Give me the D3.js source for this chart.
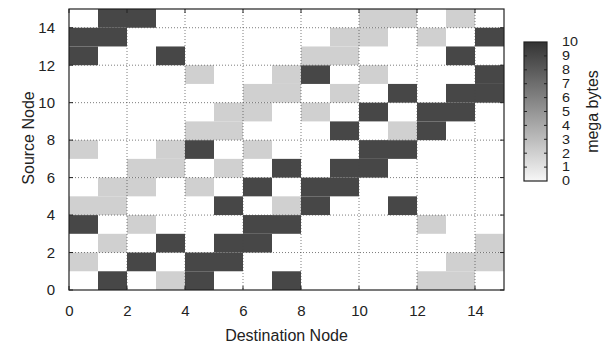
<!DOCTYPE html>
<html>
<head>
<meta charset="utf-8">
<script src="https://cdn.jsdelivr.net/npm/d3@7"></script>
<style>
  body { margin: 0; background: #fff; }
  text { font-family: "Liberation Sans", Arial, sans-serif; fill: #222; }
</style>
</head>
<body>
<svg id="chart"></svg>
<script>
// node ids on both axes
const nodes = d3.range(15);
const xTicks = [0, 2, 4, 6, 8, 10, 12, 14];
const yTicks = [0, 2, 4, 6, 8, 10, 12, 14];
const cbTicks = d3.range(11);

// traffic in mega bytes, one row per source node (row 0 = source 0), column = destination
const H = 9, L = 2;
const traffic = [
  [0, H, 0, L, H, 0, 0, H, 0, 0, 0, 0, L, L, 0],
  [L, 0, H, 0, H, H, 0, 0, 0, 0, 0, 0, 0, L, L],
  [0, L, 0, H, 0, H, H, 0, 0, 0, 0, 0, 0, 0, L],
  [H, 0, L, 0, 0, 0, H, H, 0, 0, 0, 0, L, 0, 0],
  [L, L, 0, 0, 0, H, 0, L, H, 0, 0, H, 0, 0, 0],
  [0, L, L, 0, L, 0, H, 0, H, H, 0, 0, 0, 0, 0],
  [0, 0, L, L, 0, L, 0, H, 0, H, H, 0, 0, 0, 0],
  [L, 0, 0, L, H, 0, L, 0, 0, 0, H, H, 0, 0, 0],
  [0, 0, 0, 0, L, L, 0, 0, 0, H, 0, L, H, 0, 0],
  [0, 0, 0, 0, 0, L, L, 0, L, 0, H, 0, H, H, 0],
  [0, 0, 0, 0, 0, 0, L, L, 0, L, 0, H, 0, H, H],
  [0, 0, 0, 0, L, 0, 0, L, H, 0, L, 0, 0, 0, H],
  [H, 0, 0, H, 0, 0, 0, 0, L, L, 0, 0, 0, H, 0],
  [H, H, 0, 0, 0, 0, 0, 0, 0, L, L, 0, L, 0, H],
  [0, H, H, 0, 0, 0, 0, 0, 0, 0, L, L, 0, L, 0]
];

const width = 607, height = 345;
const margin = { top: 9, left: 69, right: 103, bottom: 55 };
const innerW = width - margin.left - margin.right;
const innerH = height - margin.top - margin.bottom;

const svg = d3.select('#chart')
    .attr('width', width)
    .attr('height', height);

const chart = svg.append('g')
    .attr('transform', `translate(${margin.left},${margin.top})`);

const xScale = d3.scaleLinear().domain([0, 15]).range([0, innerW]);
const yScale = d3.scaleLinear().domain([0, 15]).range([innerH, 0]);
const color = d3.scaleLinear().domain([0, 10]).range(['#f7f7f7', '#333333']);

// flatten into cells, skip empty ones (drawn as white background)
const cells = [];
traffic.forEach((row, src) => row.forEach((v, dst) => {
  if (v > 0) cells.push({ src, dst, v });
}));

chart.selectAll('rect.cell')
  .data(cells)
  .join('rect')
    .attr('class', 'cell')
    .attr('x', d => xScale(d.dst))
    .attr('y', d => yScale(d.src + 1))
    .attr('width', xScale(1) - xScale(0))
    .attr('height', yScale(0) - yScale(1))
    .attr('fill', d => color(d.v));

// dotted grid on top
chart.selectAll('line.vgrid')
  .data(xTicks.filter(t => t > 0))
  .join('line')
    .attr('x1', d => xScale(d)).attr('x2', d => xScale(d))
    .attr('y1', 0).attr('y2', innerH)
    .attr('stroke', '#444').attr('stroke-opacity', 0.7)
    .attr('stroke-dasharray', '1,2');

chart.selectAll('line.hgrid')
  .data(yTicks.filter(t => t > 0))
  .join('line')
    .attr('y1', d => yScale(d)).attr('y2', d => yScale(d))
    .attr('x1', 0).attr('x2', innerW)
    .attr('stroke', '#444').attr('stroke-opacity', 0.7)
    .attr('stroke-dasharray', '1,2');

// axes: labels via d3 axis, inward ticks mirrored
const xAxis = d3.axisBottom(xScale).tickValues(xTicks).tickSize(0).tickPadding(15);
const yAxis = d3.axisLeft(yScale).tickValues(yTicks).tickSize(0).tickPadding(14);

const xAxisG = chart.append('g')
    .attr('transform', `translate(0,${innerH})`)
    .call(xAxis);
const yAxisG = chart.append('g').call(yAxis);

[xAxisG, yAxisG].forEach(g => {
  g.select('.domain').remove();
  g.selectAll('text').attr('font-size', 15).attr('fill', '#222')
    .attr('font-family', '"Liberation Sans", Arial, sans-serif');
});

const tickLen = 4;
xTicks.forEach(t => {
  chart.append('line').attr('x1', xScale(t)).attr('x2', xScale(t))
    .attr('y1', innerH).attr('y2', innerH - tickLen).attr('stroke', '#222');
  chart.append('line').attr('x1', xScale(t)).attr('x2', xScale(t))
    .attr('y1', 0).attr('y2', tickLen).attr('stroke', '#222');
});
yTicks.forEach(t => {
  chart.append('line').attr('y1', yScale(t)).attr('y2', yScale(t))
    .attr('x1', 0).attr('x2', tickLen).attr('stroke', '#222');
  chart.append('line').attr('y1', yScale(t)).attr('y2', yScale(t))
    .attr('x1', innerW).attr('x2', innerW - tickLen).attr('stroke', '#222');
});

chart.append('rect')
    .attr('width', innerW).attr('height', innerH)
    .attr('fill', 'none').attr('stroke', '#222').attr('stroke-width', 1.2);

// axis titles
chart.append('text')
    .attr('x', innerW / 2)
    .attr('y', innerH + 51)
    .attr('text-anchor', 'middle')
    .attr('font-size', 16)
    .text('Destination Node');

svg.append('text')
    .attr('transform', `translate(28,138) rotate(-90)`)
    .attr('text-anchor', 'middle')
    .attr('dy', '0.35em')
    .attr('font-size', 16)
    .text('Source Node');

// colour box
const cb = { x: 524, y: 42, w: 23, h: 139 };
const cbScale = d3.scaleLinear().domain([0, 10]).range([cb.y + cb.h, cb.y]);

const grad = svg.append('defs').append('linearGradient')
    .attr('id', 'cbGrad')
    .attr('x1', 0).attr('y1', 1).attr('x2', 0).attr('y2', 0);
grad.selectAll('stop')
  .data(cbTicks)
  .join('stop')
    .attr('offset', d => d / 10)
    .attr('stop-color', d => color(d));

svg.append('rect')
    .attr('x', cb.x).attr('y', cb.y)
    .attr('width', cb.w).attr('height', cb.h)
    .attr('fill', 'url(#cbGrad)')
    .attr('stroke', '#222').attr('stroke-width', 1.2);

cbTicks.forEach(t => {
  if (t === 0 || t === 10) return;
  svg.append('line').attr('x1', cb.x).attr('x2', cb.x + 3)
    .attr('y1', cbScale(t)).attr('y2', cbScale(t)).attr('stroke', '#222');
  svg.append('line').attr('x1', cb.x + cb.w).attr('x2', cb.x + cb.w - 3)
    .attr('y1', cbScale(t)).attr('y2', cbScale(t)).attr('stroke', '#222');
});

// squeezed a bit vertically so the 11 labels fit the 139px box like the original
svg.selectAll('text.cblabel')
  .data(cbTicks)
  .join('text')
    .attr('class', 'cblabel')
    .attr('transform', d => `translate(${cb.x + 38},${cbScale(d)}) scale(1.15,1)`)
    .attr('dy', '0.35em')
    .attr('font-size', 12.5)
    .text(d => d);

svg.append('text')
    .attr('transform', `translate(592,${cb.y + cb.h / 2}) rotate(-90)`)
    .attr('text-anchor', 'middle')
    .attr('dy', '0.35em')
    .attr('font-size', 16)
    .text('mega bytes');
</script>
</body>
</html>
